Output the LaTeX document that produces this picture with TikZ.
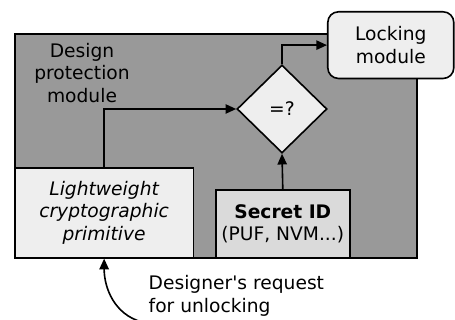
\documentclass[tikz,border=0pt]{standalone}
\usepackage{fontspec}
\setmainfont{DejaVu Sans}
\usetikzlibrary{shapes.geometric,arrows.meta}
\definecolor{moduleback}{RGB}{153,153,153}
\definecolor{boxback}{RGB}{238,238,238}
\definecolor{idback}{RGB}{218,218,218}

\tikzset{
  blockbox/.style={draw,line width=1.2pt,inner sep=0pt,align=center},
  link/.style={->,line width=1.2pt}
}

\begin{document}
\begin{tikzpicture}[x=0.75pt,y=-0.75pt,font=\fontsize{14}{16.8}\selectfont,
  >={Triangle[length=8pt,width=7pt]}]
\useasboundingbox (0,0) rectangle (455,320);
% outer block
\node (protect) [blockbox,fill=moduleback,anchor=north west,minimum width=301.5pt,minimum height=168pt] at (14,33) {};
\node (title) [align=center] at (82,73) {Design\\protection\\module};
% inner blocks
\node (crypto) [blockbox,fill=boxback,anchor=north west,minimum width=134pt,minimum height=67.5pt,font=\fontsize{14}{16.8}\selectfont\itshape] at (14,167) {Lightweight\\cryptographic\\primitive};
\node (secret) [blockbox,fill=idback,anchor=north west,minimum width=100.5pt,minimum height=51pt] at (215,189) {\textbf{Secret ID}\\(PUF, NVM...)};
\node (cmp) [blockbox,diamond,fill=boxback,minimum width=67.5pt,minimum height=66pt] at (282,109) {=?};
\node (lock) [blockbox,fill=boxback,rounded corners=8pt,anchor=north west,minimum width=94.5pt,minimum height=50pt] at (327,11) {Locking\\module};
\node (request) [align=left,anchor=north west] at (144,271) {Designer\textquotesingle s request\\for unlocking};
\coordinate (user) at (142,322);
% connectors
\draw [link] (crypto.north) |- (cmp.west);
\draw [link] (secret.north) -- (cmp.south);
\draw [link] (cmp.north) |- (lock.west);
\draw [link] (user) to[out=165,in=-90] (crypto.south);
\end{tikzpicture}
\end{document}
